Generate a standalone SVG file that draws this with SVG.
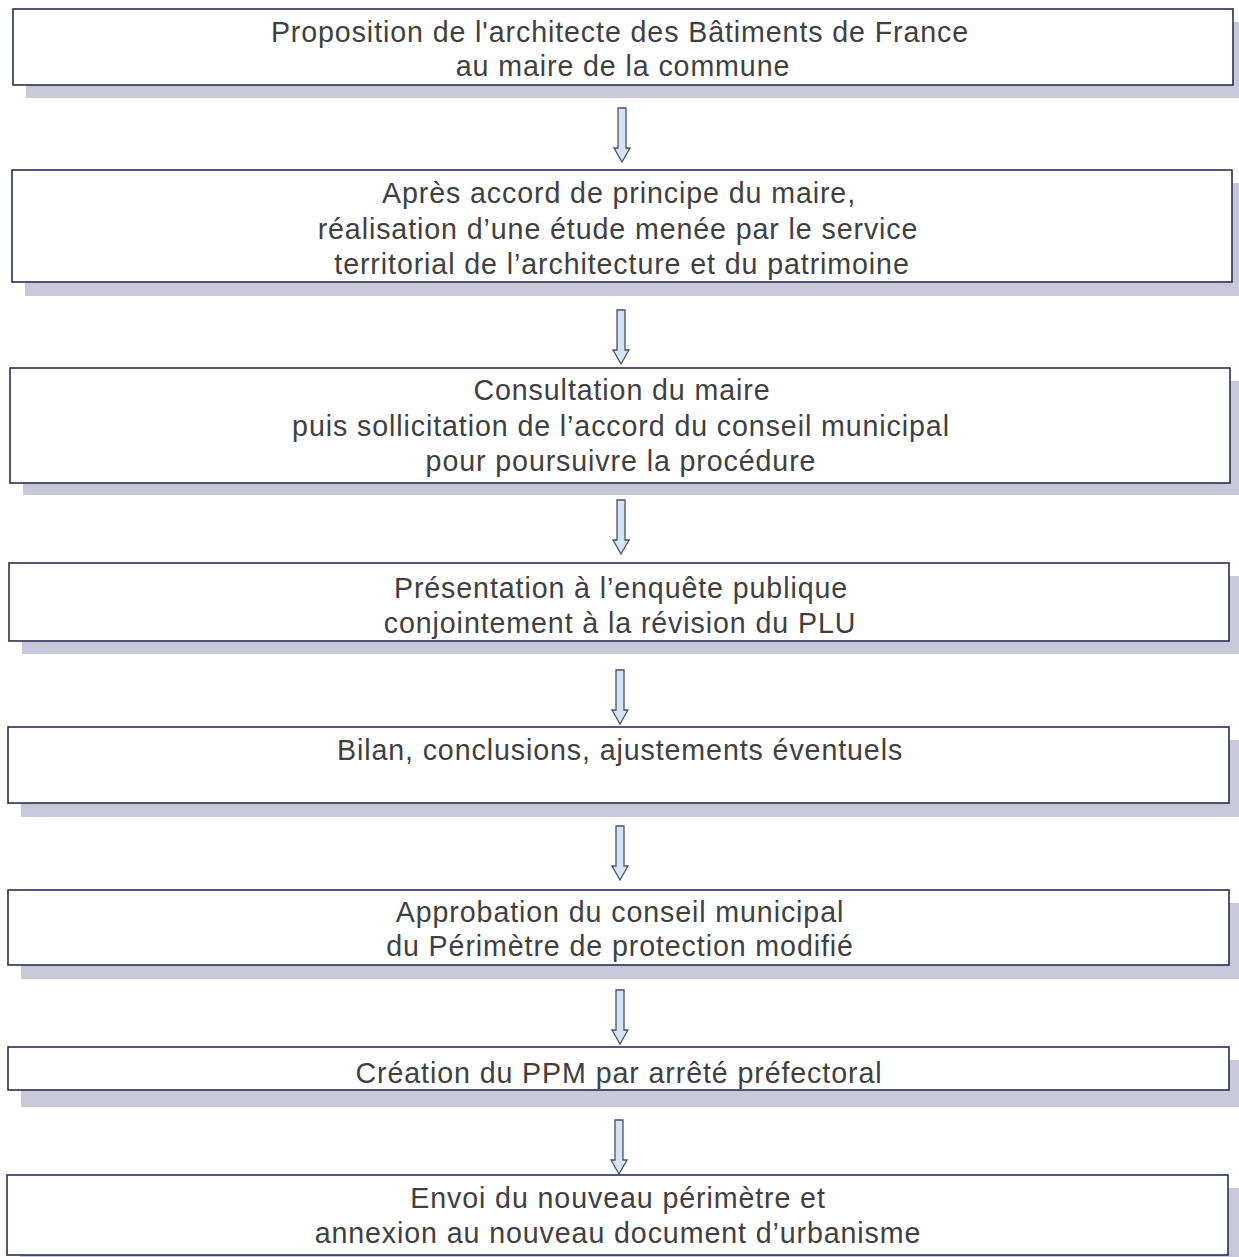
<svg xmlns="http://www.w3.org/2000/svg" width="1239" height="1257" viewBox="0 0 1239 1257">
<style>
.sh{fill:#c9c8d8}
.bx{fill:#fff;stroke:#2b2d55;stroke-width:1.6}
.t{font-family:"Liberation Sans",Arial,sans-serif;font-size:28.6px;letter-spacing:0.9px;fill:#404040;text-anchor:middle}
.ar{fill:#d4e4f3;stroke:#4a5068;stroke-width:1.3}
</style>
<defs>
<path id="arrow" d="M-4,0 H4 V40 H8 L0,54 L-8,40 H-4 Z"/>
</defs>
<rect width="1239" height="1257" fill="#fff"/>
<g id="connectors">
<use href="#arrow" class="ar" x="622" y="108"/>
<use href="#arrow" class="ar" x="621" y="310"/>
<use href="#arrow" class="ar" x="621" y="500"/>
<use href="#arrow" class="ar" x="620" y="670"/>
<use href="#arrow" class="ar" x="620" y="826"/>
<use href="#arrow" class="ar" x="620" y="990"/>
<use href="#arrow" class="ar" x="619" y="1120"/>
</g>
<g id="n1">
<rect class="sh" x="26" y="22" width="1213" height="76"/>
<rect class="bx" x="13" y="9" width="1220" height="76"/>
<text class="t" x="620" y="42">Proposition de l'architecte des Bâtiments de France</text>
<text class="t" x="623" y="76">au maire de la commune</text>
</g>
<g id="n2">
<rect class="sh" x="25" y="183" width="1214" height="113"/>
<rect class="bx" x="12" y="170" width="1220" height="112"/>
<text class="t" x="619" y="203">Après accord de principe du maire,</text>
<text class="t" x="618" y="239">réalisation d’une étude menée par le service</text>
<text class="t" x="622" y="274">territorial de l’architecture et du patrimoine</text>
</g>
<g id="n3">
<rect class="sh" x="23" y="381" width="1216" height="114"/>
<rect class="bx" x="10" y="368" width="1220" height="115"/>
<text class="t" x="622" y="400">Consultation du maire</text>
<text class="t" x="621" y="436">puis sollicitation de l’accord du conseil municipal</text>
<text class="t" x="621" y="471">pour poursuivre la procédure</text>
</g>
<g id="n4">
<rect class="sh" x="22" y="576" width="1217" height="78"/>
<rect class="bx" x="9" y="563" width="1220" height="78"/>
<text class="t" x="621" y="598">Présentation à l’enquête publique</text>
<text class="t" x="620" y="633">conjointement à la révision du PLU</text>
</g>
<g id="n5">
<rect class="sh" x="21" y="740" width="1218" height="77"/>
<rect class="bx" x="8" y="727" width="1221" height="76"/>
<text class="t" x="620" y="760">Bilan, conclusions, ajustements éventuels</text>
</g>
<g id="n6">
<rect class="sh" x="21" y="903" width="1218" height="76"/>
<rect class="bx" x="8" y="890" width="1221" height="75"/>
<text class="t" x="620" y="922">Approbation du conseil municipal</text>
<text class="t" x="620" y="956">du Périmètre de protection modifié</text>
</g>
<g id="n7">
<rect class="sh" x="21" y="1060" width="1218" height="47"/>
<rect class="bx" x="8" y="1047" width="1221" height="43"/>
<text class="t" x="619" y="1083">Création du PPM par arrêté préfectoral</text>
</g>
<g id="n8">
<rect class="sh" x="20" y="1188" width="1219" height="69"/>
<rect class="bx" x="7" y="1175" width="1221" height="80"/>
<text class="t" x="618" y="1208">Envoi du nouveau périmètre et</text>
<text class="t" x="618" y="1243">annexion au nouveau document d’urbanisme</text>
</g>
</svg>
